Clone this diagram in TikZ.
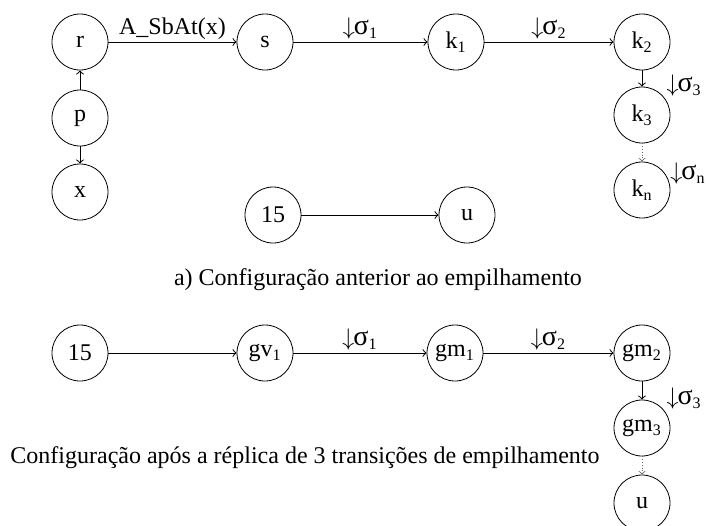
\documentclass[tikz,border=0pt]{standalone}
\usepackage{fontspec}
\setmainfont{Liberation Serif}
\def\desce#1{$\downarrow$\kern-0.5pt{\fontsize{14}{14}\selectfont σ}\textsubscript{#1}}

\begin{document}
\begin{tikzpicture}[x=0.5pt,y=-0.5pt,
		estado/.style={draw, circle, minimum size=28pt, inner sep=0pt, font=\fontsize{12}{14}\selectfont},
		seta/.style={->, line width=0.5pt},
		pontos/.style={->, densely dotted, draw=black!60},
		rotulo/.style={font=\fontsize{12}{14}\selectfont, inner sep=1pt}]
			%%%%% START %%%%%
			\useasboundingbox (0,0) rectangle (707,525);
			
			% a) antes do empilhamento
			\node[estado] (r) at (80,42) {r};
			\node[estado] (p) at (80,118) {p};
			\node[estado] (x) at (80,192) {x};
			\node[estado] (s) at (265,42) {s};
			\node[estado] (k1) at (456,42) {k\textsubscript{1}};
			\node[estado] (k2) at (642,42) {k\textsubscript{2}};
			\node[estado] (k3) at (642,115) {k\textsubscript{3}};
			\node[estado] (kn) at (642,190) {k\textsubscript{n}};
			\node[estado] (q15) at (273,215) {15};
			\node[estado] (u) at (467,215) {u};
			
			\draw[seta] (p) -- (r);
			\draw[seta] (p) -- (x);
			\draw[seta] (r) -- node[rotulo, above] {A\_SbAt(x)} (s);
			\draw[seta] (s) -- node[rotulo, above] {\desce{1}} (k1);
			\draw[seta] (k1) -- node[rotulo, above] {\desce{2}} (k2);
			\draw[seta] (k2) -- node[rotulo, right, pos=0.95, xshift=11pt] {\desce{3}} (k3);
			\draw[pontos] (k3) -- (kn);
			\node[rotulo, anchor=west, xshift=3pt, yshift=-2pt] (sn) at (kn.north east) {\desce{n}};
			\draw[seta] (q15) -- (u);
			
			\node[rotulo] (capa) at (378,280) {a) Configuração anterior ao empilhamento};
			
			% depois da réplica
			\node[estado] (b15) at (80,353) {15};
			\node[estado] (gv1) at (265,353) {gv\textsubscript{1}};
			\node[estado] (gm1) at (455,353) {gm\textsubscript{1}};
			\node[estado] (gm2) at (642,353) {gm\textsubscript{2}};
			\node[estado] (gm3) at (642,428) {gm\textsubscript{3}};
			\node[estado] (bu) at (642,503) {u};
			
			\draw[seta] (b15) -- (gv1);
			\draw[seta] (gv1) -- node[rotulo, above] {\desce{1}} (gm1);
			\draw[seta] (gm1) -- node[rotulo, above] {\desce{2}} (gm2);
			\draw[seta] (gm2) -- node[rotulo, right, pos=0.95, xshift=11pt] {\desce{3}} (gm3);
			\draw[pontos] (gm3) -- (bu);
			
			\node[rotulo] (capb) at (305,458) {Configuração após a réplica de 3 transições de empilhamento};
			%%%%% END %%%%%
		\end{tikzpicture}
\end{document}
